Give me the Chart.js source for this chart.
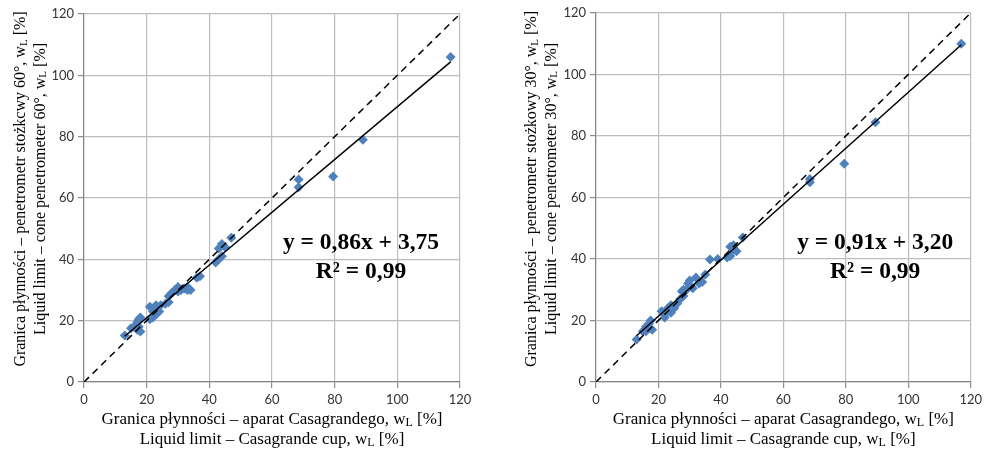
<!DOCTYPE html>
<html>
<head>
<meta charset="utf-8">
<script src="https://cdn.jsdelivr.net/npm/chart.js@4/dist/chart.umd.min.js"></script>
<style>
  html, body { margin: 0; padding: 0; background: #fff; }
  .wrap { position: absolute; top: 0; width: 493px; height: 451px; }
  #left { left: 0; }
  #right { left: 493px; }
</style>
</head>
<body>
<div class="wrap" id="left"><canvas id="chart60" width="493" height="451"></canvas></div>
<div class="wrap" id="right"><canvas id="chart30" width="493" height="451"></canvas></div>
<script>
// Casagrande cup liquid limit (x) vs cone penetrometer 60° (y)
const cup60 = [13, 15, 16, 17, 17.5, 18, 17, 18, 17.5, 21, 22, 21, 22, 23, 23, 24, 24.5, 22,
  26, 27, 27, 28, 29, 30, 30, 31, 32, 33, 33, 34, 36, 37, 42, 43, 44, 43, 44, 45, 47,
  68.5, 68.5, 79.5, 89, 117];
const cone60 = [15.2, 17.5, 18, 19.5, 20.5, 21, 17, 16.5, 18, 24.5, 24, 20.5, 21, 22, 25, 23, 25, 23,
  25.5, 26, 28, 29, 30, 31, 29.5, 30, 30.5, 30, 31, 30, 34, 34.5, 39, 40, 41, 43.5, 45, 44, 47,
  66, 63.5, 67, 79, 106];

// Casagrande cup liquid limit (x) vs cone penetrometer 30° (y)
const cup30 = [13, 15, 16, 17, 17.5, 18, 17, 16, 21, 22, 22, 23, 24, 24, 25, 26, 27, 28, 27.5,
  28, 29, 29.5, 30, 30, 31, 32, 33, 34, 35, 36.5, 39, 42, 43, 43, 44, 45, 44, 47,
  68.5, 68.5, 79.5, 89.5, 117];
const cone30 = [13.8, 16.5, 18, 19, 20, 17, 17.5, 16.5, 23, 22, 21, 24, 22.5, 25, 24, 25.5, 27, 28, 29.5,
  30, 30, 32, 33, 31, 30.5, 34, 32, 32.5, 35, 39.8, 40, 40.5, 41, 44, 43, 42.5, 44.5, 47,
  66, 65, 71, 84.5, 110];

// trend lines (as printed on the chart) and their x range
const fit60 = { slope: 0.86, intercept: 3.75, label: 'y = 0,86x + 3,75', r2: 'R² = 0,99' };
const fit30 = { slope: 0.91, intercept: 3.20, label: 'y = 0,91x + 3,20', r2: 'R² = 0,99' };
const fitRange = [13, 117];
const identity = [0, 120];

const axisTicks = [0, 20, 40, 60, 80, 100, 120];

const BLUE = '#4f81bd';
const SERIF = '"Liberation Serif", "Times New Roman", serif';

// text with a subscript part: parts = [[text, isSub], ...]
function drawRich(ctx, parts, x, y, size) {
  const subSize = Math.round(size * 0.68);
  let total = 0;
  parts.forEach(([t, sub]) => {
    ctx.font = (sub ? subSize : size) + 'px ' + SERIF;
    total += ctx.measureText(t).width;
  });
  let cx = x - total / 2;
  ctx.textAlign = 'left';
  ctx.textBaseline = 'middle';
  parts.forEach(([t, sub]) => {
    ctx.font = (sub ? subSize : size) + 'px ' + SERIF;
    ctx.fillText(t, cx, sub ? y + 3 : y);
    cx += ctx.measureText(t).width;
  });
}

const titlePlugin = {
  id: 'titles',
  afterDraw(chart, args, opts) {
    const ctx = chart.ctx;
    const area = chart.chartArea;
    const xs = chart.scales.x, ys = chart.scales.y;
    ctx.save();
    ctx.fillStyle = '#000';
    const cx = (area.left + area.right) / 2;
    drawRich(ctx, [['Granica płynności – aparat Casagrandego, w', false], ['L', true], [' [%]', false]], cx, 420, 17);
    drawRich(ctx, [['Liquid limit – Casagrande cup, w', false], ['L', true], [' [%]', false]], cx, 440, 17);

    ctx.save();
    ctx.translate(opts.titleX, 189);
    ctx.rotate(-Math.PI / 2);
    drawRich(ctx, [[opts.yLine1, false], ['L', true], [' [%]', false]], 0, 0, 16);
    ctx.restore();
    ctx.save();
    ctx.translate(opts.titleX + 19.5, 189);
    ctx.rotate(-Math.PI / 2);
    drawRich(ctx, [[opts.yLine2, false], ['L', true], [' [%]', false]], 0, 0, 16);
    ctx.restore();

    // trend line equation
    ctx.font = 'bold 23.5px ' + SERIF;
    ctx.textAlign = 'center';
    ctx.textBaseline = 'middle';
    const ex = xs.getPixelForValue(opts.eqX);
    ctx.fillText(opts.fit.label, ex, ys.getPixelForValue(45.3));
    ctx.fillText(opts.fit.r2, ex, ys.getPixelForValue(35.9));
    ctx.restore();
  }
};

function makeChart(id, xs, ys, fit, cfg) {
  const points = xs.map((x, i) => ({ x: x, y: ys[i] }));
  const trend = fitRange.map(x => ({ x: x, y: fit.slope * x + fit.intercept }));
  const diag = identity.map(v => ({ x: v, y: v }));

  const axis = (fitFn) => ({
    type: 'linear',
    min: axisTicks[0],
    max: axisTicks[axisTicks.length - 1],
    afterBuildTicks: (s) => { s.ticks = axisTicks.map(v => ({ value: v })); },
    afterFit: fitFn,
    grid: { color: '#bdbdbd', lineWidth: 1.2, tickLength: 6, tickColor: '#8c8c8c' },
    border: { color: '#858585', width: 1.2 },
    ticks: {
      color: '#333',
      padding: 4,
      font: { family: 'Lato, "Liberation Sans", sans-serif', size: 13 }
    },
    title: { display: false }
  });

  return new Chart(document.getElementById(id), {
    type: 'scatter',
    data: {
      datasets: [
        {
          type: 'line', data: trend, borderColor: '#000', borderWidth: 1.5,
          pointRadius: 0, fill: false, order: 1
        },
        {
          type: 'line', data: diag, borderColor: '#000', borderWidth: 1.5,
          borderDash: [7, 5], pointRadius: 0, fill: false, order: 2
        },
        {
          data: points, pointStyle: 'rectRot', pointRadius: 5,
          backgroundColor: BLUE, borderColor: BLUE, borderWidth: 0, order: 3
        }
      ]
    },
    options: {
      responsive: false,
      animation: false,
      devicePixelRatio: 1,
      layout: { padding: { left: 0, top: cfg.top, right: cfg.right, bottom: 0 } },
      plugins: {
        legend: { display: false },
        tooltip: { enabled: false },
        titles: cfg.titles
      },
      scales: {
        x: axis((s) => { s.height = 69; }),
        y: axis((s) => { s.width = cfg.yWidth; })
      }
    },
    plugins: [titlePlugin]
  });
}

makeChart('chart60', cup60, cone60, fit60, {
  top: 14, right: 33, yWidth: 84,
  titles: {
    titleX: 21, eqX: 88.4, fit: fit60,
    yLine1: 'Granica płynności – penetrometr stożkcwy 60°, w',
    yLine2: 'Liquid limit – cone penetrometer 60°, w'
  }
});

makeChart('chart30', cup30, cone30, fit30, {
  top: 13, right: 14, yWidth: 103,
  titles: {
    titleX: 39, eqX: 89.4, fit: fit30,
    yLine1: 'Granica płynności – penetrometr stożkowy 30°, w',
    yLine2: 'Liquid limit – cone penetrometer 30°, w'
  }
});
</script>
</body>
</html>
